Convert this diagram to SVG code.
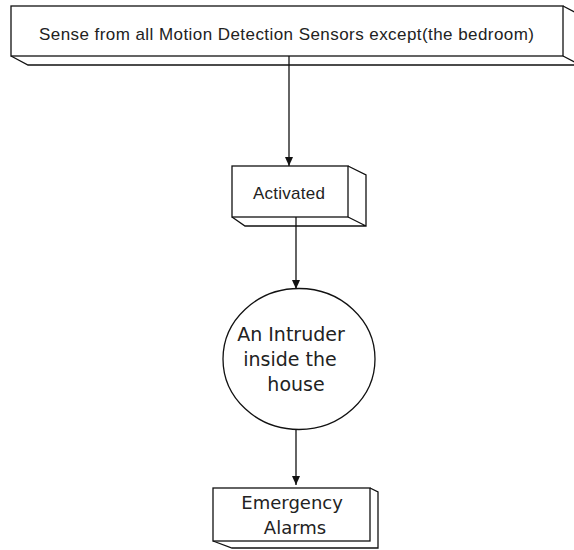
<svg xmlns="http://www.w3.org/2000/svg" width="574" height="550" viewBox="0 0 574 550">
  <defs>
    <marker id="arrow" markerWidth="10" markerHeight="10" refX="9" refY="4" orient="auto" markerUnits="userSpaceOnUse">
      <path d="M0,0 L9,4 L0,8 Z" fill="#111"/>
    </marker>
  </defs>
  <style>
    .box { fill: #fff; stroke: #111; stroke-width: 1.3; }
    .edge { fill: none; stroke: #111; stroke-width: 1.3; stroke-linejoin: miter; }
    .line { stroke: #111; stroke-width: 1.3; fill: none; }
    .sans { font-family: "Liberation Sans", Arial, sans-serif; fill: #222; }
    .round { font-family: "DejaVu Sans", "Noto Sans", sans-serif; fill: #222; }
  </style>
  <rect width="574" height="550" fill="#fff"/>

  <!-- connectors -->
  <g id="connectors">
    <line class="line" x1="289" y1="56" x2="289" y2="166" marker-end="url(#arrow)"/>
    <line class="line" x1="296" y1="217" x2="296" y2="289" marker-end="url(#arrow)"/>
    <line class="line" x1="296" y1="430" x2="296" y2="485" marker-end="url(#arrow)"/>
  </g>

  <!-- sensing block -->
  <g id="sense">
    <path class="edge" d="M11,56 L28,65 L580,65 L580,15 L563,6 M563,56 L580,65"/>
    <rect class="box" x="11" y="6" width="552" height="50"/>
    <text class="sans" x="39" y="40" font-size="17" textLength="495" lengthAdjust="spacing">Sense from all Motion Detection Sensors except(the bedroom)</text>
  </g>

  <!-- activation block -->
  <g id="activated">
    <path class="edge" d="M232,217 L245,226 L366,226 L366,175 L348,166 M348,217 L366,226"/>
    <rect class="box" x="232" y="166" width="116" height="51"/>
    <text class="sans" x="253" y="199" font-size="17" textLength="72" lengthAdjust="spacing">Activated</text>
  </g>

  <!-- intruder state -->
  <g id="intruder">
    <ellipse class="box" cx="299" cy="359" rx="76" ry="70.5"/>
    <text class="round" font-size="19" text-anchor="middle">
      <tspan x="294" y="341">An Intruder</tspan>
      <tspan x="293" y="366">inside the</tspan>
      <tspan x="296" y="391">house</tspan>
    </text>
  </g>

  <!-- alarm block -->
  <g id="alarms">
    <path class="edge" d="M213,541 L232,548 L378,548 L378,492 L370,488"/>
    <rect class="box" x="213" y="488" width="157" height="53"/>
    <text class="round" font-size="18" text-anchor="middle">
      <tspan x="295" y="509">Emergency</tspan>
      <tspan x="295" y="534">Alarms</tspan>
    </text>
  </g>
</svg>
